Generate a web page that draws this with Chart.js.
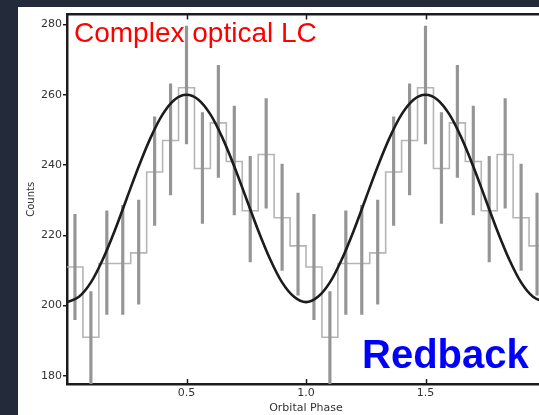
<!DOCTYPE html>
<html>
<head>
<meta charset="utf-8">
<script src="https://cdn.jsdelivr.net/npm/chart.js@4.4.1/dist/chart.umd.min.js"></script>
<style>
  html, body { margin: 0; padding: 0; width: 539px; height: 415px; overflow: hidden; background: #232b3b; }
  #wrap { position: absolute; left: 18px; top: 7px; width: 540px; height: 408px; background: #fff; }
  #lcChart { display: block; }
  .note { position: absolute; white-space: nowrap; line-height: 1; font-family: "Liberation Sans", Arial, sans-serif; }
  #noteLC { left: 74px; top: 19px; font-size: 28px; color: #ff0000; }
  #noteRB { left: 362px; top: 334px; font-size: 40px; font-weight: bold; color: #0000ff; }
</style>
</head>
<body>
<div id="wrap"><canvas id="lcChart" width="540" height="408"></canvas></div>
<div class="note" id="noteLC">Complex optical LC</div>
<div class="note" id="noteRB">Redback</div>
<script>
// folded light curve, 15 bins per orbit (shown twice)
const binsPerCycle = 15;
const binCounts = [211, 191, 212, 212, 215, 238, 247, 262, 239, 252, 241, 227, 243, 225, 217];
const errLow  = [196, 177, 197.5, 197.5, 200.4, 222.8, 231.5, 246, 223.4, 236.5, 225.8, 212.4, 227.7, 210, 203];
const errHigh = [226, 204, 227, 228.5, 230, 253.7, 263.1, 279.5, 254.9, 268.4, 256.8, 242.5, 258.9, 240.3, 232];

// model curve, sampled every 0.05 in phase
const curveStep = 0.05;
const curveCounts = [
  201, 202.5, 206.6, 213.2, 221.4, 230.5, 239.6, 247.8, 254.4, 258.6,
  260, 258.6, 254.4, 247.8, 239.6, 230.5, 221.4, 213.2, 206.6, 202.5,
  201, 202.5, 206.6, 213.2, 221.4, 230.5, 239.6, 247.8, 254.4, 258.6,
  260, 258.6, 254.4, 247.8, 239.6, 230.5, 221.4, 213.2, 206.6, 202.5,
  201
];

const xTicks = [0.5, 1.0, 1.5];
const xTickLabels = ["0.5", "1.0", "1.5"];
const yTicks = [180, 200, 220, 240, 260, 280];

const phaseMin = 0, phaseMax = 2;
const countMin = 177.7, countMax = 282.8;

// build datasets
const stepPoints = [];
const errPoints = [];
for (let c = 0; c < 2; c++) {
  for (let i = 0; i < binsPerCycle; i++) {
    const left = c + i / binsPerCycle;
    stepPoints.push({ x: left, y: binCounts[i] });
    errPoints.push({ x: left + 0.5 / binsPerCycle, y: [errLow[i], errHigh[i]] });
  }
}
stepPoints.push({ x: 2, y: binCounts[binsPerCycle - 1] });

const curvePoints = curveCounts.map((v, i) => ({ x: i * curveStep, y: v }));

const axisColor = "#1c1c1c";
const tickFont = { family: "DejaVu Sans", size: 11 };

// inward tick marks on the top and bottom axes
const innerTicks = {
  id: "innerTicks",
  afterDatasetsDraw(chart) {
    const ctx = chart.ctx;
    const area = chart.chartArea;
    const sx = chart.scales.x;
    ctx.save();
    ctx.strokeStyle = axisColor;
    ctx.lineWidth = 1.5;
    xTicks.forEach(v => {
      const px = Math.round(sx.getPixelForValue(v)) + 0.5;
      ctx.beginPath();
      ctx.moveTo(px, area.bottom);
      ctx.lineTo(px, area.bottom - 5);
      ctx.moveTo(px, area.top);
      ctx.lineTo(px, area.top + 5);
      ctx.stroke();
    });
    ctx.restore();
  }
};

const ctx = document.getElementById("lcChart").getContext("2d");
new Chart(ctx, {
  type: "line",
  data: {
    datasets: [
      {
        label: "model",
        data: curvePoints,
        borderColor: "#1c1c1c",
        borderWidth: 2.6,
        pointRadius: 0,
        cubicInterpolationMode: "monotone",
        fill: false,
        order: 0
      },
      {
        type: "bar",
        label: "errors",
        data: errPoints,
        backgroundColor: "#959595",
        borderWidth: 0,
        barThickness: 2.5,
        grouped: false,
        order: 1
      },
      {
        label: "binned",
        data: stepPoints,
        stepped: "before",
        borderColor: "#b5b5b5",
        borderWidth: 1.6,
        pointRadius: 0,
        fill: false,
        order: 2
      }
    ]
  },
  options: {
    responsive: false,
    animation: false,
    layout: { padding: { left: 0, right: 13, top: 0, bottom: 0 } },
    plugins: { legend: { display: false }, tooltip: { enabled: false } },
    scales: {
      x: {
        type: "linear",
        position: "bottom",
        min: phaseMin,
        max: phaseMax,
        offset: false,
        afterBuildTicks: s => { s.ticks = xTicks.map(v => ({ value: v })); },
        afterFit: s => { s.height = 31; },
        grid: { display: false, drawTicks: false },
        border: { display: true, color: axisColor, width: 2.5 },
        ticks: {
          font: tickFont,
          color: "#333",
          padding: 3,
          maxRotation: 0,
          callback: (v) => xTickLabels[xTicks.indexOf(v)]
        },
        title: {
          display: true,
          text: "Orbital Phase",
          font: { family: "DejaVu Sans", size: 11 },
          color: "#333",
          padding: { top: 0, bottom: 0 }
        }
      },
      xTop: {
        type: "linear",
        position: "top",
        min: phaseMin,
        max: phaseMax,
        afterFit: s => { s.height = 6; },
        grid: { display: false, drawTicks: false },
        border: { display: true, color: axisColor, width: 2.5 },
        ticks: { display: false }
      },
      y: {
        type: "linear",
        min: countMin,
        max: countMax,
        afterBuildTicks: s => { s.ticks = yTicks.map(v => ({ value: v })); },
        afterFit: s => { s.width = 49; },
        grid: { display: true, drawOnChartArea: false, drawTicks: true, tickLength: 4, color: axisColor, lineWidth: 1.5 },
        border: { display: true, color: axisColor, width: 2.5 },
        ticks: { font: tickFont, color: "#333", padding: 1 },
        title: {
          display: true,
          text: "Counts",
          font: { family: "DejaVu Sans", size: 10 },
          color: "#333",
          padding: { top: 7, bottom: 0 }
        }
      }
    }
  },
  plugins: [innerTicks]
});
</script>
</body>
</html>
